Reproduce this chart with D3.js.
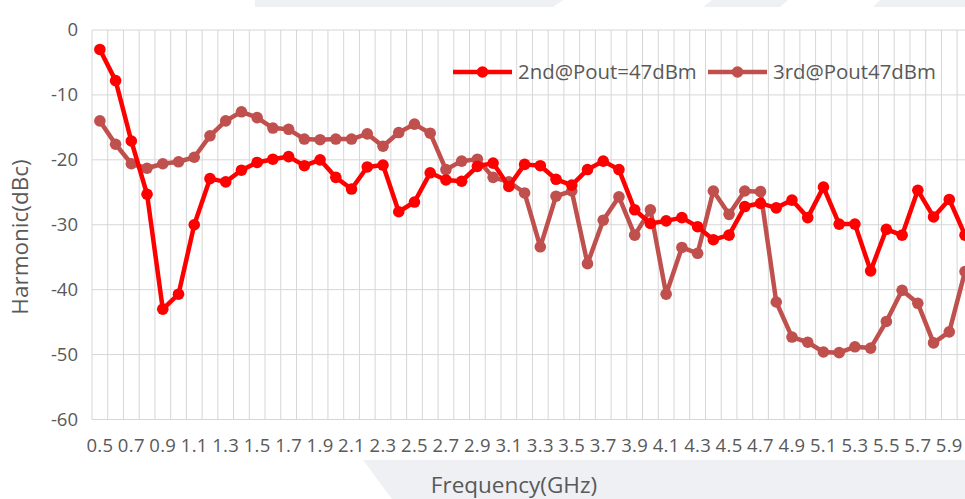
<!DOCTYPE html>
<html>
<head>
<meta charset="utf-8">
<script src="https://cdn.jsdelivr.net/npm/d3@7"></script>
<style>
  body { margin: 0; background: #fff; }
  svg { display: block; font-family: "Open Sans", sans-serif; }
</style>
</head>
<body>
<div id="canvas"></div>
<script>
// categories (GHz)
var freqs = ["0.5","0.6","0.7","0.8","0.9","1.0","1.1","1.2","1.3","1.4",
  "1.5","1.6","1.7","1.8","1.9","2.0","2.1","2.2","2.3","2.4",
  "2.5","2.6","2.7","2.8","2.9","3.0","3.1","3.2","3.3","3.4",
  "3.5","3.6","3.7","3.8","3.9","4.0","4.1","4.2","4.3","4.4",
  "4.5","4.6","4.7","4.8","4.9","5.0","5.1","5.2","5.3","5.4",
  "5.5","5.6","5.7","5.8","5.9","6.0"];
var xTickLabels = ["0.5","0.7","0.9","1.1","1.3","1.5","1.7","1.9","2.1","2.3",
  "2.5","2.7","2.9","3.1","3.3","3.5","3.7","3.9","4.1","4.3",
  "4.5","4.7","4.9","5.1","5.3","5.5","5.7","5.9"];
var yTicks = [0, -10, -20, -30, -40, -50, -60];

var second = [-3, -7.8, -17.1, -25.3, -43, -40.7, -30, -22.9, -23.4, -21.6,
  -20.4, -19.9, -19.5, -20.9, -20, -22.7, -24.5, -21.1, -20.8, -28,
  -26.5, -22, -23.1, -23.3, -21, -20.5, -24.1, -20.7, -20.9, -23,
  -23.9, -21.5, -20.2, -21.5, -27.7, -29.8, -29.4, -28.9, -30.3, -32.3,
  -31.6, -27.2, -26.7, -27.4, -26.2, -28.9, -24.2, -29.9, -29.9, -37.1,
  -30.7, -31.6, -24.7, -28.8, -26.1, -31.6];
var third = [-14, -17.6, -20.6, -21.3, -20.6, -20.3, -19.6, -16.3, -14, -12.6,
  -13.5, -15.1, -15.3, -16.8, -16.9, -16.8, -16.8, -16, -17.9, -15.8,
  -14.5, -15.9, -21.5, -20.2, -19.9, -22.7, -23.4, -25.1, -33.4, -25.6,
  -24.8, -36, -29.3, -25.7, -31.6, -27.7, -40.7, -33.5, -34.4, -24.8,
  -28.4, -24.8, -24.9, -41.9, -47.3, -48.1, -49.6, -49.7, -48.8, -49,
  -44.9, -40.1, -42.1, -48.2, -46.5, -37.2];

var seriesNames = ["2nd@Pout=47dBm", "3rd@Pout47dBm"];
var colors = ["#ff0000", "#c0504d"];

var width = 965, height = 499;
var plotLeft = 92, plotTop = 30, plotBottom = 419.5;
var step = 15.73;

var svg = d3.select("#canvas").append("svg")
  .attr("width", width)
  .attr("height", height);

// faint background shapes
var bg = "#eff0f4";
svg.append("polygon").attr("fill", bg)
  .attr("points", "363,460 965,460 965,499 392,499");
svg.append("polygon").attr("fill", bg)
  .attr("points", "255,0 563,0 553,7 255,7");
svg.append("polygon").attr("fill", bg)
  .attr("points", "712,0 788,0 780,7 703,7");
svg.append("polygon").attr("fill", bg)
  .attr("points", "880,0 965,0 965,7 873,7");

var x = d3.scaleBand()
  .domain(freqs)
  .range([plotLeft, plotLeft + step * freqs.length])
  .padding(0);
var y = d3.scaleLinear()
  .domain([-60, 0])
  .range([plotBottom, plotTop]);

var g = svg.append("g");

// vertical gridlines at category boundaries
g.selectAll(".vgrid").data(freqs.concat(["end"]))
  .enter().append("line")
  .attr("class", "vgrid")
  .attr("x1", (d, i) => plotLeft + i * x.step())
  .attr("x2", (d, i) => plotLeft + i * x.step())
  .attr("y1", plotTop)
  .attr("y2", plotBottom)
  .attr("stroke", "#d6d6d6")
  .attr("stroke-width", 1);

// horizontal gridlines
g.selectAll(".hgrid").data(yTicks)
  .enter().append("line")
  .attr("class", "hgrid")
  .attr("x1", plotLeft)
  .attr("x2", plotLeft + step * freqs.length)
  .attr("y1", (d) => y(d))
  .attr("y2", (d) => y(d))
  .attr("stroke", "#d6d6d6")
  .attr("stroke-width", 1);

// y tick labels
g.selectAll(".ylab").data(yTicks)
  .enter().append("text")
  .attr("class", "ylab")
  .attr("x", 78)
  .attr("y", (d) => y(d))
  .attr("dy", "0.35em")
  .attr("text-anchor", "end")
  .attr("font-size", "18.5px")
  .attr("fill", "#595959")
  .text((d) => d);

// x tick labels
g.selectAll(".xlab").data(xTickLabels)
  .enter().append("text")
  .attr("class", "xlab")
  .attr("x", (d) => x(d) + x.bandwidth() / 2)
  .attr("y", 446)
  .attr("dy", "0.35em")
  .attr("text-anchor", "middle")
  .attr("font-size", "18.5px")
  .attr("letter-spacing", "0.3px")
  .attr("fill", "#595959")
  .text((d) => d);

// axis titles
svg.append("text")
  .attr("x", 514)
  .attr("y", 493)
  .attr("text-anchor", "middle")
  .attr("font-size", "22.5px")
  .attr("fill", "#595959")
  .text("Frequency(GHz)");
svg.append("text")
  .attr("transform", "translate(28,237) rotate(-90)")
  .attr("text-anchor", "middle")
  .attr("font-size", "22.5px")
  .attr("fill", "#595959")
  .text("Harmonic(dBc)");

// series
var line = d3.line()
  .x((d, i) => x(freqs[i]) + x.bandwidth() / 2)
  .y((d) => y(d));

[third, second].forEach((vals, k) => {
  var c = k === 0 ? colors[1] : colors[0];
  g.append("path")
    .attr("d", line(vals))
    .attr("fill", "none")
    .attr("stroke", c)
    .attr("stroke-width", 4.5)
    .attr("stroke-linejoin", "round");
  g.selectAll(".pt" + k).data(vals)
    .enter().append("circle")
    .attr("class", "pt" + k)
    .attr("cx", (d, i) => x(freqs[i]) + x.bandwidth() / 2)
    .attr("cy", (d) => y(d))
    .attr("r", 5.8)
    .attr("fill", c);
});

// legend
var legendX = [453, 708];
seriesNames.forEach((name, i) => {
  var lg = svg.append("g").attr("transform", "translate(" + legendX[i] + ",72)");
  lg.append("line")
    .attr("x1", 0).attr("x2", 59)
    .attr("y1", 0).attr("y2", 0)
    .attr("stroke", colors[i])
    .attr("stroke-width", 4.5);
  lg.append("circle")
    .attr("cx", 29.5).attr("cy", 0)
    .attr("r", 5.8)
    .attr("fill", colors[i]);
  lg.append("text")
    .attr("x", 65)
    .attr("y", 0)
    .attr("dy", "0.35em")
    .attr("font-size", "20.4px")
    .attr("fill", "#595959")
    .text(name);
});
</script>
</body>
</html>
